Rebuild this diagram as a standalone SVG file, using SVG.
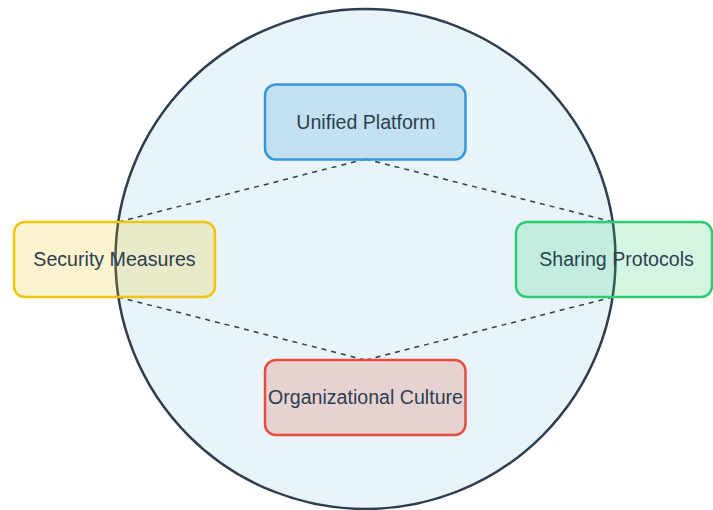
<svg xmlns="http://www.w3.org/2000/svg" width="713" height="510" viewBox="0 0 713 510">
  <style>
    .ring { fill: #e8f4f8; stroke: #2c3e50; stroke-width: 2.5; }
    .link { fill: none; stroke: #2c3e50; stroke-width: 1.5; stroke-dasharray: 5 5; }
    .box { stroke-width: 2.5; }
    .label { font-family: "Liberation Sans", Arial, sans-serif; font-size: 19.6px; fill: #2c3e50; text-anchor: middle; }
  </style>

  <!-- outer circle -->
  <circle class="ring" cx="365.5" cy="259" r="250"/>

  <!-- dashed connectors -->
  <g id="connectors">
    <line class="link" x1="365.5" y1="159" x2="118" y2="222"/>
    <line class="link" x1="365.5" y1="159" x2="613" y2="222"/>
    <line class="link" x1="118" y1="297" x2="365.5" y2="360"/>
    <line class="link" x1="613" y1="297" x2="365.5" y2="360"/>
  </g>

  <g id="unified-platform">
    <rect class="box" x="265" y="84.5" width="200.5" height="75" rx="11" fill="#3498db" fill-opacity="0.2" stroke="#3498db"/>
    <text class="label" x="366" y="128.5">Unified Platform</text>
  </g>

  <g id="security-measures">
    <rect class="box" x="14" y="222" width="201" height="75" rx="11" fill="#f1c40f" fill-opacity="0.2" stroke="#f1c40f"/>
    <text class="label" x="114.5" y="266">Security Measures</text>
  </g>

  <g id="sharing-protocols">
    <rect class="box" x="516" y="222" width="196" height="75" rx="11" fill="#2ecc71" fill-opacity="0.2" stroke="#2ecc71"/>
    <text class="label" x="616.5" y="266">Sharing Protocols</text>
  </g>

  <g id="organizational-culture">
    <rect class="box" x="265" y="360" width="200.5" height="75" rx="11" fill="#e74c3c" fill-opacity="0.2" stroke="#e74c3c"/>
    <text class="label" x="365.5" y="404.2">Organizational Culture</text>
  </g>
</svg>
